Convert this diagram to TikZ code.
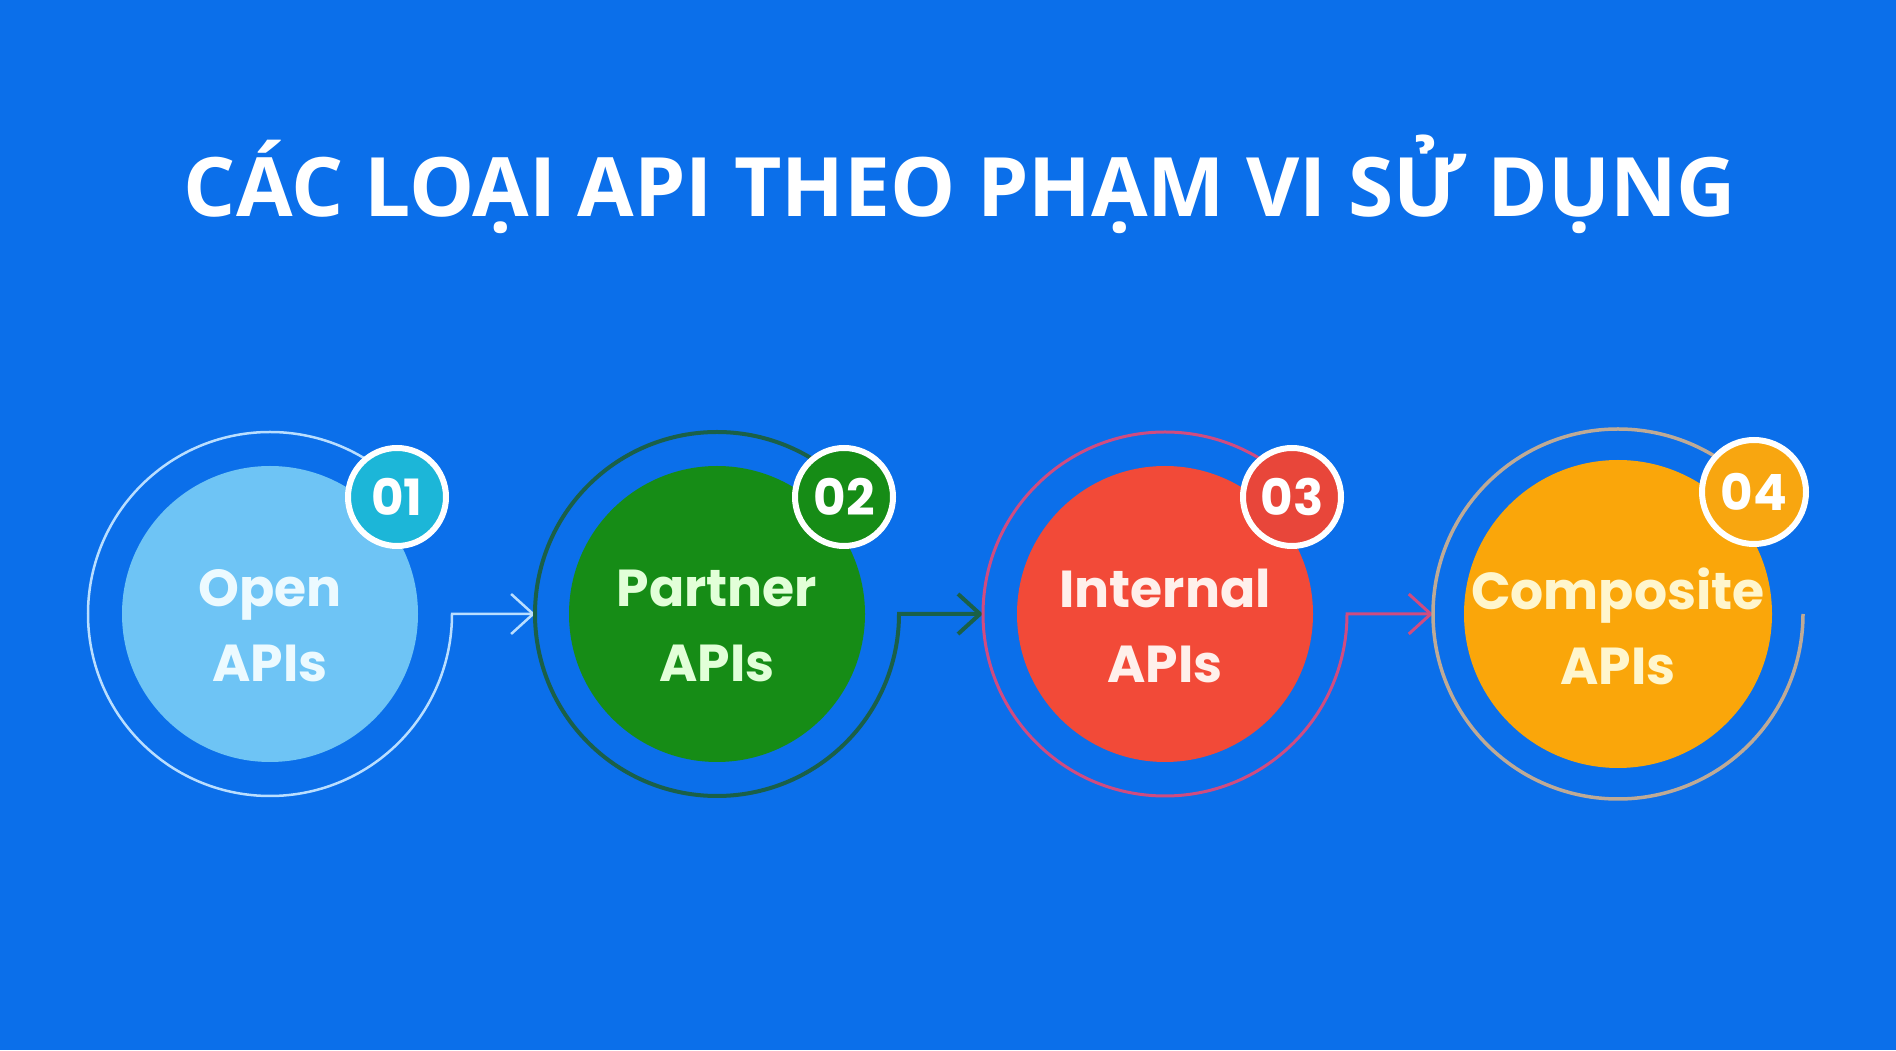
\documentclass[tikz,border=0pt]{standalone}
\usepackage{fontspec}
\setmainfont{Open Sans}
\newfontfamily\popfont{Poppins}
\usetikzlibrary{arrows.meta,positioning}
\definecolor{bgblue}{RGB}{11,111,234}
\definecolor{openfill}{RGB}{110,196,245}
\definecolor{opentext}{RGB}{236,250,255}
\definecolor{openring}{RGB}{185,222,255}
\definecolor{openbadge}{RGB}{28,182,216}
\definecolor{partnerfill}{RGB}{22,140,22}
\definecolor{partnertext}{RGB}{226,255,216}
\definecolor{partnerring}{RGB}{26,96,72}
\definecolor{partnerbadge}{RGB}{22,140,22}
\definecolor{internalfill}{RGB}{242,74,56}
\definecolor{internaltext}{RGB}{255,240,235}
\definecolor{internalring}{RGB}{208,76,128}
\definecolor{internalbadge}{RGB}{232,70,58}
\definecolor{compfill}{RGB}{250,166,10}
\definecolor{comptext}{RGB}{255,246,205}
\definecolor{compring}{RGB}{190,170,150}
\definecolor{compbadge}{RGB}{248,166,16}
\tikzset{>={Straight Barb[length=22pt,width=40pt]}}
\tikzset{apicircle/.style={shape=circle, minimum size=296pt, inner sep=0pt, outer sep=0pt}}
\tikzset{ring/.style={shape=circle, minimum size=364pt, inner sep=0pt, outer sep=0pt}}
\tikzset{badge/.style={shape=circle, draw=white, line width=6pt, minimum size=98pt,
    inner sep=0pt, text=white, font=\popfont\bfseries\fontsize{50}{50}\selectfont}}
\tikzset{apitext/.style={align=center, font=\popfont\bfseries\fontsize{52}{75}\selectfont}}

\begin{document}
\begin{tikzpicture}[x=1pt, y=1pt]
    \fill[bgblue] (0,0) rectangle (1896,1050);
    \useasboundingbox (0,0) rectangle (1896,1050);

    \node(title) [anchor=base, text=white, font=\bfseries\fontsize{82}{90}\selectfont]
        at (960,833) {CÁC LOẠI API THEO PHẠM VI SỬ DỤNG};

    \node(api1)[apicircle, fill=openfill]                          at (270,436) {};
    \node(api2)[apicircle, fill=partnerfill, right=151pt of api1]  {};
    \node(api3)[apicircle, fill=internalfill, right=152pt of api2] {};
    \node(api4)[apicircle, fill=compfill, minimum size=308pt, right=151pt of api3] {};

    \node(ring1)[ring] at (api1) {};
    \node(ring2)[ring] at (api2) {};
    \node(ring3)[ring] at (api3) {};
    \node(ring4)[ring, minimum size=370pt] at (api4) {};

    \node(txt1)[apitext, text=opentext]     at ([yshift=-12pt]api1.center) {Open\\APIs};
    \node(txt2)[apitext, text=partnertext]  at ([yshift=-12pt]api2.center) {Partner\\APIs};
    \node(txt3)[apitext, text=internaltext] at ([yshift=-12pt]api3.center) {Internal\\APIs};
    \node(txt4)[apitext, text=comptext]     at ([yshift=-12pt]api4.center) {Composite\\APIs};

    % rings that run on into the next step
    \draw [->][draw=openring, line width=2.5pt] (ring1.45) arc[start angle=45, end angle=360, radius=182pt] -- (ring2.west);
    \draw [->][draw=partnerring, line width=4pt] (ring2.45) arc[start angle=45, end angle=360, radius=182pt] -- (ring3.west);
    \draw [->][draw=internalring, line width=3pt] (ring3.45) arc[start angle=45, end angle=360, radius=182pt] -- (ring4.west);
    \draw [draw=compring, line width=3.5pt] (ring4.45) arc[start angle=45, end angle=360, radius=185pt];

    \node(num1)[badge, fill=openbadge]     at ([shift={(127,117)}]api1.center) {01};
    \node(num2)[badge, fill=partnerbadge]  at ([shift={(127,117)}]api2.center) {02};
    \node(num3)[badge, fill=internalbadge] at ([shift={(127,117)}]api3.center) {03};
    \node(num4)[badge, fill=compbadge, minimum size=104pt] at ([shift={(136,122)}]api4.center) {04};
\end{tikzpicture}
\end{document}
